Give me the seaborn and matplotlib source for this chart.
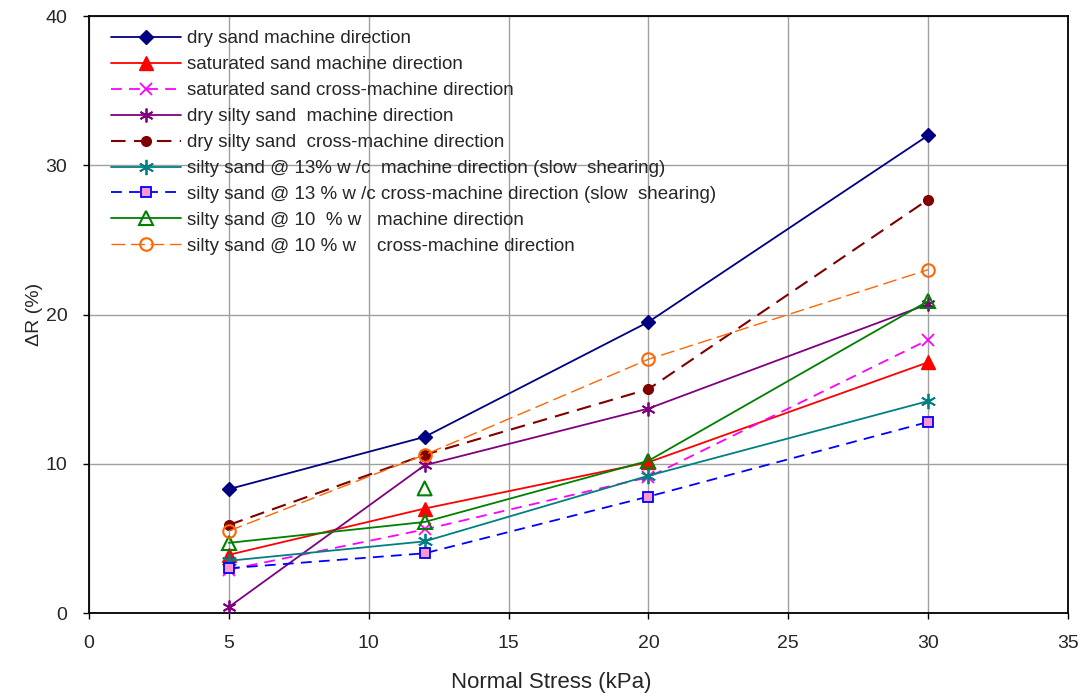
import matplotlib
matplotlib.use("Agg")
import matplotlib.pyplot as plt
import seaborn as sns
import pandas as pd

# Normal stress levels (kPa)
stress = [5, 12, 20, 30]

# Change in resistance, ΔR (%)
dry_sand_md = [8.3, 11.8, 19.5, 32.0]
sat_sand_md = [3.9, 7.0, 10.1, 16.8]
sat_sand_cmd = [2.9, 5.6, 9.1, 18.3]
dry_silty_md = [0.4, 9.9, 13.7, 20.7]
dry_silty_cmd = [5.9, 10.6, 15.0, 27.7]
silty13_md = [3.5, 4.8, 9.2, 14.2]
silty13_cmd = [3.0, 4.0, 7.8, 12.8]
silty10_md = [4.7, 6.1, 10.2, 20.9]
silty10_cmd = [5.5, 10.6, 17.0, 23.0]

# Additional single reading at 12 kPa (10 % w, machine direction)
silty10_md_extra_x = [12]
silty10_md_extra_y = [8.35]

labels = [
    "dry sand machine direction",
    "saturated sand machine direction",
    "saturated sand cross-machine direction",
    "dry silty sand  machine direction",
    "dry silty sand  cross-machine direction",
    "silty sand @ 13% w /c  machine direction (slow  shearing)",
    "silty sand @ 13 % w /c cross-machine direction (slow  shearing)",
    "silty sand @ 10  % w   machine direction",
    "silty sand @ 10 % w    cross-machine direction",
]
series = [dry_sand_md, sat_sand_md, sat_sand_cmd, dry_silty_md, dry_silty_cmd,
          silty13_md, silty13_cmd, silty10_md, silty10_cmd]

asterisk = (6, 2, 0)
styles = [
    dict(color="#000080", marker="D", ms=7.5, mfc="#000080", mec="#000080", ls="-", lw=1.3),
    dict(color="#FF0000", marker="^", ms=9.5, mfc="#FF0000", mec="#FF0000", ls="-", lw=1.3),
    dict(color="#FF00FF", marker="x", ms=9, mfc="none", mec="#FF00FF", ls=(0, (6, 4)), lw=1.3, mew=1.3),
    dict(color="#800080", marker=asterisk, ms=10, mfc="none", mec="#800080", ls="-", lw=1.3, mew=1.3),
    dict(color="#800000", marker="o", ms=7, mfc="#800000", mec="#800000", ls=(0, (7, 4)), lw=1.5),
    dict(color="#008080", marker=asterisk, ms=11, mfc="none", mec="#008080", ls="-", lw=1.3, mew=1.3),
    dict(color="#0000FF", marker="s", ms=7, mfc="#FF99CC", mec="#0000FF", ls=(0, (6, 4)), lw=1.3, mew=1.3),
    dict(color="#008000", marker="^", ms=10, mfc="none", mec="#008000", ls="-", lw=1.3, mew=1.5),
    dict(color="#FF6600", marker="o", ms=9, mfc="none", mec="#FF6600", ls=(0, (10, 4)), lw=1.0, mew=1.5),
]

sns.set_theme(style="white")
plt.rcParams["font.family"] = ["Liberation Sans", "DejaVu Sans"]

fig = plt.figure(figsize=(10.84, 6.97), dpi=100)
ax = fig.add_axes([0.0821, 0.1205, 0.9031, 0.8565])

for vals, lab, st in zip(series, labels, styles):
    df = pd.DataFrame({"stress": stress, "dR": vals})
    sns.lineplot(data=df, x="stress", y="dR", ax=ax, label=lab, sort=False,
                 color=st["color"], marker=st["marker"], markersize=st["ms"],
                 markerfacecolor=st["mfc"], markeredgecolor=st["mec"],
                 markeredgewidth=st.get("mew", 1.0), linestyle=st["ls"],
                 linewidth=st["lw"], zorder=3)

# Extra reading drawn as a marker only
sns.scatterplot(x=silty10_md_extra_x, y=silty10_md_extra_y, ax=ax, marker="^",
                s=100, facecolor="none", edgecolor="#008000", linewidth=1.5,
                legend=False, zorder=3)

ax.set_xlim(0, 35)
ax.set_ylim(0, 40)
ax.set_xticks(range(0, 36, 5))
ax.set_yticks(range(0, 41, 10))
ax.grid(True, color="#A0A0A0", linewidth=1.0)
ax.set_axisbelow(True)
for sp in ax.spines.values():
    sp.set_color("black")
    sp.set_linewidth(1.3)
ax.tick_params(axis="both", direction="out", length=4.5, width=1, color="black",
               labelsize=14, left=True, bottom=True)
ax.tick_params(axis="x", pad=11)
ax.tick_params(axis="y", pad=11)
ax.set_xlabel("Normal Stress (kPa)", fontsize=16)
ax.xaxis.set_label_coords(0.472, -0.098)
ax.set_ylabel("ΔR (%)", fontsize=14)
ax.yaxis.set_label_coords(-0.047, 0.5)

leg = ax.legend(loc="upper left", bbox_to_anchor=(0.011, 0.995), frameon=False,
                fontsize=13.5, handlelength=3.75, handletextpad=0.3,
                labelspacing=0.47, borderaxespad=0.2)

fig.savefig("out.png", dpi=100)
